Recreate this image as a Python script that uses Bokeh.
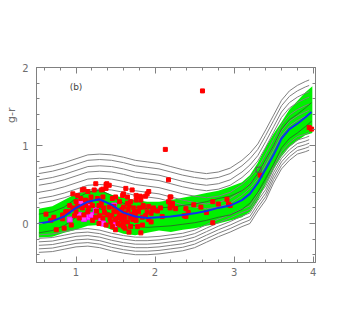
import numpy as np
from bokeh.plotting import figure
from bokeh.models import Range1d, FixedTicker, LinearAxis, Label, Title
from bokeh.embed import file_html
from bokeh.resources import INLINE

# green band (x, lower, upper)
band_x = [0.53, 0.7, 0.85, 1.0, 1.15, 1.3, 1.45, 1.6, 1.75, 1.9, 2.05, 2.2, 2.35, 2.5,
          2.65, 2.8, 2.95, 3.1, 3.2, 3.3, 3.4, 3.5, 3.6, 3.7, 3.8, 3.9, 3.99]
band_upper = [0.19, 0.22, 0.30, 0.38, 0.42, 0.43, 0.37, 0.33, 0.30, 0.28, 0.28, 0.30, 0.33, 0.36,
              0.39, 0.42, 0.47, 0.53, 0.62, 0.78, 0.98, 1.15, 1.30, 1.46, 1.57, 1.68, 1.76]
band_lower = [-0.18, -0.17, -0.12, -0.08, -0.03, -0.02, -0.08, -0.13, -0.15, -0.12, -0.09, -0.11, -0.08, -0.06,
              -0.03, 0.0, 0.04, 0.08, 0.15, 0.30, 0.50, 0.70, 0.86, 0.98, 1.06, 1.13, 1.16]

# blue median
med_x = [0.53, 0.7, 0.85, 1.0, 1.15, 1.3, 1.45, 1.6, 1.75, 1.9, 2.05, 2.2, 2.35, 2.5,
         2.65, 2.8, 2.95, 3.1, 3.2, 3.3, 3.4, 3.5, 3.6, 3.7, 3.8, 3.9, 3.98]
med_y = [0.0, 0.03, 0.09, 0.20, 0.28, 0.31, 0.24, 0.14, 0.09, 0.07, 0.08, 0.09, 0.11, 0.13,
         0.16, 0.20, 0.23, 0.30, 0.38, 0.52, 0.70, 0.88, 1.09, 1.21, 1.28, 1.36, 1.43]

# gray contour family
cont_x = [0.53, 0.7, 0.85, 1.0, 1.15, 1.3, 1.45, 1.6, 1.75, 1.9, 2.05, 2.2, 2.35, 2.5,
          2.65, 2.8, 2.95, 3.1, 3.2, 3.3, 3.4, 3.5, 3.6, 3.7, 3.8, 3.9, 3.95]
cont_top = [0.71, 0.74, 0.78, 0.83, 0.88, 0.89, 0.88, 0.85, 0.81, 0.79, 0.77, 0.73, 0.69, 0.66,
            0.64, 0.66, 0.71, 0.81, 0.90, 1.02, 1.20, 1.39, 1.58, 1.70, 1.77, 1.82, 1.84]
cont_bottom = [-0.37, -0.36, -0.33, -0.30, -0.29, -0.31, -0.35, -0.38, -0.40, -0.40, -0.39, -0.37, -0.35, -0.31,
               -0.24, -0.17, -0.11, -0.04, 0.0, 0.16, 0.30, 0.52, 0.70, 0.81, 0.89, 0.92, 0.94]
upper_offsets = [0.0, 0.07, 0.15, 0.22, 0.31, 0.39, 0.45]
lower_offsets = [0.0, 0.045, 0.09, 0.135, 0.18, 0.225]
inner_offsets = [0.12, -0.12]

# red points
red_x = [1.25, 1.32, 1.08, 1.15, 1.23, 1.38, 1.42, 1.02, 1.06, 1.19, 1.27, 1.34, 0.92, 0.96, 1.00, 0.87,
         0.83, 1.12, 1.16, 1.21, 1.29, 1.35, 1.42, 1.46, 1.48, 1.40, 1.34, 1.25, 1.21, 1.10, 1.04, 1.44,
         1.38, 1.46, 1.29, 1.15,
         2.17, 1.63, 1.71, 1.90, 1.59, 1.78, 1.82, 1.65, 1.50, 1.76, 1.82, 1.69, 1.55, 1.85, 1.67, 1.60,
         1.73, 1.98, 2.07, 2.17, 2.22, 1.79, 1.90, 1.95, 1.63, 1.57, 1.69, 1.84, 1.76, 1.60, 1.53, 1.69,
         1.78, 1.60, 1.84, 1.67, 1.53, 2.19,
         2.13, 2.60, 3.95, 3.98, 3.33, 2.49, 2.58, 2.65, 2.73, 2.80, 2.91, 2.93, 2.95, 2.73, 2.39, 2.42,
         2.37, 2.19, 2.19, 2.22, 2.26, 1.97, 2.03, 2.09, 2.39, 1.95,
         1.38, 1.34, 1.76, 1.60, 1.81, 1.65, 1.85, 1.92,
         0.62, 0.72, 0.68, 0.83, 0.90, 0.75, 0.85, 0.94, 0.96, 1.00,
         1.45, 1.50, 1.52, 1.55, 1.58, 1.62, 1.65, 1.70, 1.72, 1.75, 1.56, 1.62, 1.48, 1.58, 1.66, 1.74,
         1.80, 1.88, 1.92, 1.50, 1.43, 1.36, 1.30, 1.18, 1.12, 1.08, 0.98, 1.02, 1.26, 1.32,
         1.82, 1.39, 1.88, 1.92, 1.10, 2.20]
red_y = [0.51, 0.43, 0.43, 0.41, 0.43, 0.45, 0.49, 0.36, 0.32, 0.34, 0.32, 0.34, 0.23, 0.20, 0.15, 0.15,
         0.11, 0.23, 0.20, 0.23, 0.23, 0.20, 0.21, 0.32, 0.15, 0.11, 0.07, 0.08, 0.04, 0.11, 0.07, 0.02,
         -0.02, -0.04, 0.00, 0.15,
         0.56, 0.45, 0.43, 0.38, 0.36, 0.34, 0.34, 0.34, 0.34, 0.30, 0.30, 0.28, 0.28, 0.23, 0.23, 0.21,
         0.20, 0.20, 0.20, 0.28, 0.23, 0.15, 0.15, 0.13, 0.13, 0.11, 0.08, 0.08, 0.04, 0.02, 0.00, -0.04,
         -0.04, -0.04, -0.02, -0.11, 0.07, 0.20,
         0.95, 1.70, 1.23, 1.21, 0.62, 0.24, 0.21, 0.14, 0.28, 0.25, 0.31, 0.25, 0.23, 0.01, 0.19, 0.14,
         0.10, 0.34, 0.26, 0.26, 0.19, 0.17, 0.16, 0.09, 0.09, 0.02,
         0.50, 0.44, 0.36, 0.38, 0.35, 0.26, 0.21, 0.22,
         0.12, 0.08, 0.04, 0.06, 0.15, -0.08, -0.06, -0.02, 0.38, 0.28,
         0.10, 0.05, 0.15, 0.10, 0.05, 0.08, 0.02, 0.12, 0.05, 0.10, -0.02, -0.06, 0.22, 0.18, 0.18, 0.16,
         0.20, 0.10, 0.05, -0.08, 0.06, 0.14, 0.10, 0.28, 0.30, 0.20, 0.10, 0.22, 0.16, 0.26,
         -0.12, 0.51, 0.35, 0.41, 0.44, 0.34]

# magenta points
mag_x = [1.06, 1.15, 1.04, 1.15, 1.32, 1.34, 1.19, 1.25, 1.48, 1.50, 1.48, 0.92, 1.10]
mag_y = [0.28, 0.26, 0.11, 0.08, 0.04, 0.00, 0.11, 0.17, 0.23, 0.02, -0.02, 0.05, 0.06]

x_major = [1, 2, 3, 4]
x_minor = [0.6, 0.8, 1.0, 1.2, 1.4, 1.6, 1.8, 2.0, 2.2, 2.4, 2.6, 2.8, 3.0, 3.2, 3.4, 3.6, 3.8, 4.0]
y_major = [0, 1, 2]
y_minor = [-0.4, -0.2, 0.0, 0.2, 0.4, 0.6, 0.8, 1.0, 1.2, 1.4, 1.6, 1.8, 2.0]

GRAY = "#808080"
TXT = "#6e6e6e"

p = figure(frame_width=279, frame_height=195,
           x_range=Range1d(0.5, 4.03), y_range=Range1d(-0.5, 2.0),
           output_backend="svg", toolbar_location=None,
           min_border_left=36, min_border_top=67, min_border_right=30, min_border_bottom=40)
p.grid.visible = False
p.outline_line_color = GRAY
p.background_fill_color = "white"


def style(ax, major, minor, show):
    ax.ticker = FixedTicker(ticks=major, minor_ticks=minor)
    ax.axis_line_color = GRAY
    ax.major_tick_line_color = GRAY
    ax.minor_tick_line_color = GRAY
    ax.major_tick_in = 6
    ax.major_tick_out = 0
    ax.minor_tick_in = 3
    ax.minor_tick_out = 0
    ax.major_label_text_font = "DejaVu Sans"
    ax.major_label_text_font_size = "10px"
    ax.major_label_text_color = TXT
    if show:
        ax.major_label_standoff = 5
    else:
        ax.major_label_overrides = {t: "" for t in major}
        ax.major_label_standoff = 0


style(p.xaxis[0], x_major, x_minor, True)
style(p.yaxis[0], y_major, y_minor, True)
p.yaxis[0].major_label_standoff = 8
top_ax = LinearAxis()
right_ax = LinearAxis()
p.add_layout(top_ax, "above")
p.add_layout(right_ax, "right")
style(top_ax, x_major, x_minor, False)
style(right_ax, y_major, y_minor, False)

# y label as a side title, placed toward the upper part of the frame
p.add_layout(Title(text="g-r", align="right", offset=40, text_font="DejaVu Sans",
                   text_font_size="11px", text_font_style="normal", text_color=TXT,
                   standoff=4), "left")

# green band
p.varea(x=band_x, y1=band_lower, y2=band_upper, color="#00f000")

# gray contours
for off in upper_offsets:
    p.line(cont_x, [t - off for t in cont_top], line_color=GRAY, line_width=1)
for off in lower_offsets:
    p.line(cont_x, [b + off for b in cont_bottom], line_color=GRAY, line_width=1)
for off in inner_offsets:
    p.line(med_x, [m + off for m in med_y], line_color="#2a5a2a", line_width=1, line_alpha=0.8)

# points
p.scatter(mag_x, mag_y, marker="square", size=5, fill_color="#ff40ff", line_color="#ff00ff")
p.scatter(red_x, red_y, marker="square", size=4, fill_color="#ff0000", line_color="#ff0000")
p.scatter([3.31], [0.69], marker="square", size=5, fill_color=None, line_color="#555555")

# median
p.line(med_x, med_y, line_color="#1030f0", line_width=2)

p.add_layout(Label(x=1.0, y=1.75, text="(b)", text_align="center", text_baseline="middle",
                   text_font="DejaVu Sans", text_font_size="9px", text_color="#444444"))

open("out.html", "w").write(file_html(p, INLINE))
